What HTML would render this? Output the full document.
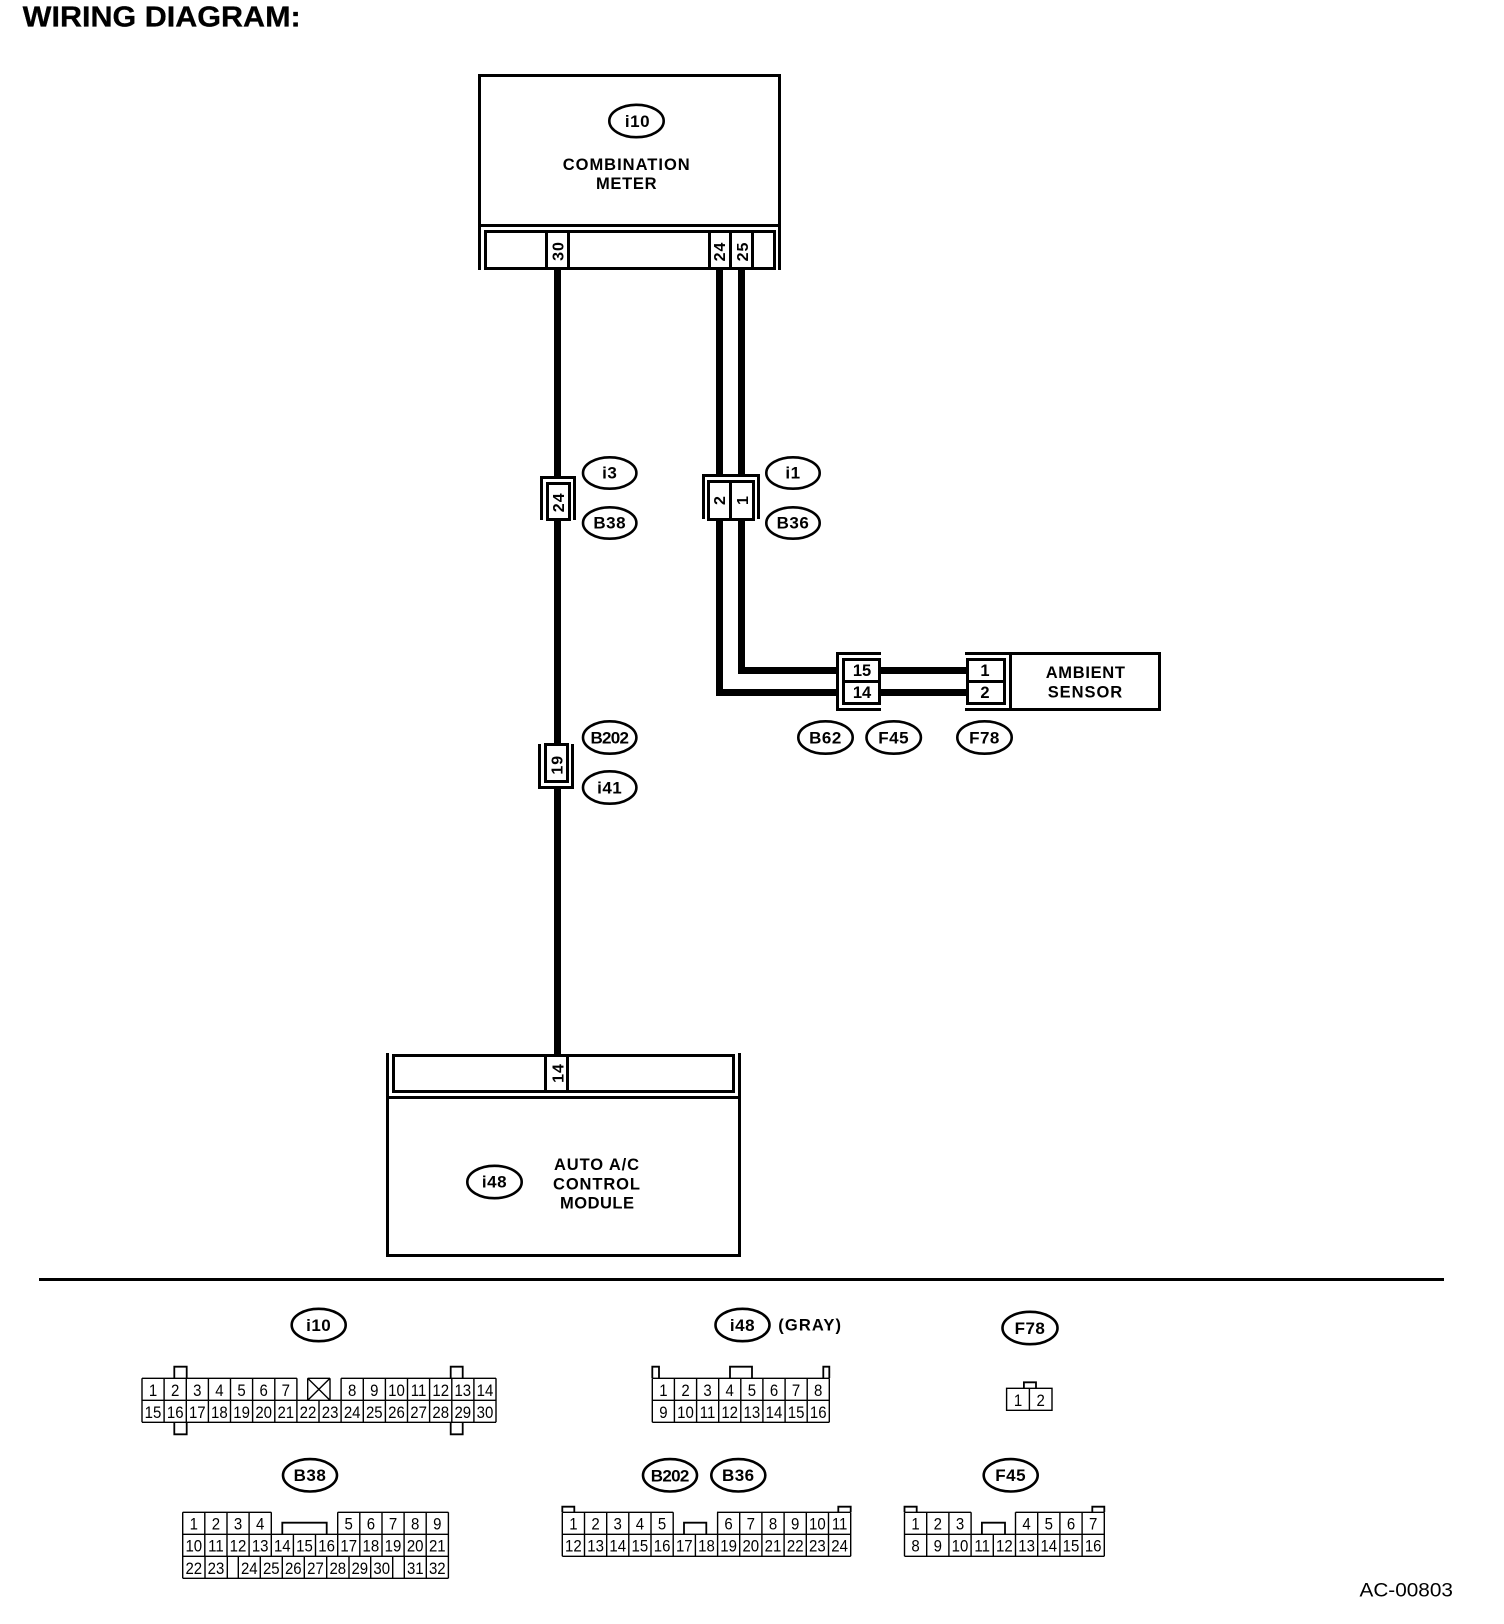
<!DOCTYPE html>
<html lang="en">
<head>
<meta charset="utf-8">
<title>Wiring Diagram</title>
<style>
html,body{margin:0;padding:0;background:#fff}
svg{display:block}
text{font-family:"Liberation Sans",Arial,sans-serif;fill:#000}
.b{font-weight:bold}
.e{font-weight:bold;font-size:17px;letter-spacing:.5px;text-anchor:middle}
.r{font-weight:bold;font-size:16px;text-anchor:middle;letter-spacing:1px}
.n{font-size:15px;text-anchor:middle}
.l{font-weight:bold;font-size:16.5px}
ellipse{fill:#fff;stroke:#000;stroke-width:2.6}
.t{fill:none;stroke:#000;stroke-width:3}
.f{fill:#fff;stroke:#000;stroke-width:3}
.g{fill:none;stroke:#000;stroke-width:1.4}
.k{fill:none;stroke:#000;stroke-width:1.8}
</style>
</head>
<body>
<svg width="1504" height="1624" viewBox="0 0 1504 1624" xmlns="http://www.w3.org/2000/svg">
<rect width="1504" height="1624" fill="#fff"/>

<text class="b" x="22.7" y="26.3" font-size="28.5" textLength="278" lengthAdjust="spacingAndGlyphs" stroke="#000" stroke-width=".3">WIRING DIAGRAM:</text>

<!-- wires -->
<g fill="#000">
<rect x="554" y="268" width="7" height="209"/>
<rect x="554" y="520" width="7" height="224"/>
<rect x="554" y="788" width="7" height="267"/>
<rect x="716" y="268" width="7" height="207"/>
<rect x="738" y="268" width="7" height="207"/>
<rect x="716" y="520" width="7" height="176"/>
<rect x="738" y="520" width="7" height="154"/>
<rect x="716" y="689" width="121" height="7"/>
<rect x="738" y="667" width="99" height="7"/>
<rect x="881" y="667" width="86" height="7"/>
<rect x="881" y="689" width="86" height="7"/>
</g>

<!-- combination meter -->
<path class="t" d="M479.5 270V75.5H779.5V270M478 225.5H781"/>
<rect class="t" x="485.5" y="231.5" width="289" height="37"/>
<path class="t" d="M546.5 231V268M568.5 231V268M709.5 231V268M730.5 231V268M752.5 231V268"/>
<ellipse cx="636.5" cy="121" rx="27.2" ry="16.2"/>
<text class="e" x="637.5" y="127">i10</text>
<text class="l" x="562.7" y="170" textLength="127">COMBINATION</text>
<text class="l" x="596" y="189" textLength="60.5">METER</text>
<text class="r" transform="translate(563.5,251) rotate(-90)">30</text>
<text class="r" transform="translate(725,251.5) rotate(-90)">24</text>
<text class="r" transform="translate(748,251.5) rotate(-90)">25</text>

<!-- i3 / B38 -->
<path class="t" d="M541.5 520V477.5H574.5V520"/>
<rect class="t" x="547.5" y="483.5" width="22" height="36"/>
<text class="r" transform="translate(564,502.3) rotate(-90)">24</text>
<ellipse cx="609.7" cy="473" rx="26.7" ry="15.7"/>
<text class="e" x="609.7" y="478.7">i3</text>
<ellipse cx="609.7" cy="523" rx="26.7" ry="15.7"/>
<text class="e" x="609.7" y="528.7">B38</text>

<!-- i1 / B36 -->
<path class="t" d="M703.5 519V475.5H758.5V519"/>
<rect class="t" x="708.5" y="481.5" width="45" height="38"/>
<path class="t" d="M730.5 481V519"/>
<text class="r" transform="translate(725,500) rotate(-90)">2</text>
<text class="r" transform="translate(748,500) rotate(-90)">1</text>
<ellipse cx="793" cy="473" rx="26.7" ry="15.7"/>
<text class="e" x="793" y="478.7">i1</text>
<ellipse cx="793" cy="523" rx="26.7" ry="15.7"/>
<text class="e" x="793" y="528.7">B36</text>

<!-- B202 / i41 -->
<path class="t" d="M539.5 744V787.5H572.5V744"/>
<rect class="t" x="545.5" y="744.5" width="22" height="37"/>
<text class="r" transform="translate(562.3,764.7) rotate(-90)">19</text>
<ellipse cx="609.7" cy="737.5" rx="26.7" ry="16.2"/>
<text class="b" x="590.5" y="743.5" font-size="17" textLength="38.5">B202</text>
<ellipse cx="609.7" cy="787.5" rx="26.7" ry="16.2"/>
<text class="e" x="609.7" y="793.3">i41</text>

<!-- B62 F45 connector -->
<path class="t" d="M881 653.5H837.5V709.5H881"/>
<rect class="t" x="843.5" y="659.5" width="36" height="44"/>
<path class="t" d="M843 681.5H880"/>
<text class="l" x="862" y="676" text-anchor="middle">15</text>
<text class="l" x="862" y="698" text-anchor="middle">14</text>

<!-- ambient sensor -->
<path class="t" d="M965 653.5H1159.5V709.5H965M1010.5 653V709"/>
<rect class="t" x="967.5" y="659.5" width="37" height="44"/>
<path class="t" d="M967 681.5H1004"/>
<text class="l" x="985" y="676" text-anchor="middle">1</text>
<text class="l" x="985" y="698" text-anchor="middle">2</text>
<text class="l" x="1045.7" y="678" textLength="79.3">AMBIENT</text>
<text class="l" x="1047.7" y="697.3" textLength="74.5">SENSOR</text>
<ellipse cx="825.5" cy="737.5" rx="27.2" ry="16.2"/>
<text class="e" x="825.5" y="743.3">B62</text>
<ellipse cx="893.7" cy="737.5" rx="27.2" ry="16.2"/>
<text class="e" x="893.7" y="743.3">F45</text>
<ellipse cx="984.5" cy="737.5" rx="27.2" ry="16.2"/>
<text class="e" x="984.5" y="743.3">F78</text>

<!-- auto a/c -->
<path class="t" d="M387.5 1053V1255.5H739.5V1053M386 1097.5H741"/>
<rect class="t" x="393.5" y="1055.5" width="340" height="36"/>
<path class="t" d="M545.5 1055V1091M567.5 1055V1091"/>
<text class="r" transform="translate(563.3,1073) rotate(-90)">14</text>
<ellipse cx="494.5" cy="1182" rx="27.2" ry="16.2"/>
<text class="e" x="494.5" y="1187.5">i48</text>
<text class="l" x="554" y="1170" textLength="85">AUTO A/C</text>
<text class="l" x="553" y="1189.3" textLength="87">CONTROL</text>
<text class="l" x="560" y="1208.5" textLength="74">MODULE</text>

<rect x="39" y="1278" width="1405" height="3" fill="#000"/>

<!-- i10 connector -->
<ellipse cx="318.7" cy="1325" rx="27" ry="16.2"/>
<text class="e" x="318.7" y="1330.8">i10</text>
<path class="g" d="M142 1378.3H296.9M341.1 1378.3H496M142 1400.3H496M142 1422.3H496M307.7 1378.3H330M307.7 1378.3V1400.3M330 1378.3V1400.3M307.7 1378.3L330 1400.3M330 1378.3L307.7 1400.3
M142 1378.3V1422.3M164.1 1378.3V1422.3M186.3 1378.3V1422.3M208.4 1378.3V1422.3M230.5 1378.3V1422.3M252.6 1378.3V1422.3M274.8 1378.3V1422.3M296.9 1378.3V1422.3M319 1400.3V1422.3M341.1 1378.3V1422.3M363.3 1378.3V1422.3M385.4 1378.3V1422.3M407.5 1378.3V1422.3M429.6 1378.3V1422.3M451.8 1378.3V1422.3M473.9 1378.3V1422.3M496 1378.3V1422.3"/>
<path class="k" d="M174.3 1378V1366.7H186.7V1378M174.3 1422.3V1434.3H186.7V1422.3M450.7 1378V1366.7H462.7V1378M450.7 1422.3V1434.3H462.7V1422.3"/>
<g transform="translate(0,1396) scale(1,1.12)">
<text class="n" x="153">1</text><text class="n" x="175.2">2</text><text class="n" x="197.3">3</text><text class="n" x="219.4">4</text><text class="n" x="241.6">5</text><text class="n" x="263.7">6</text><text class="n" x="285.8">7</text>
<text class="n" x="352.2">8</text><text class="n" x="374.3">9</text><text class="n" x="396.5">10</text><text class="n" x="418.6">11</text><text class="n" x="440.7">12</text><text class="n" x="462.8">13</text><text class="n" x="485">14</text>
</g>
<g transform="translate(0,1417.8) scale(1,1.12)">
<text class="n" x="153">15</text><text class="n" x="175.2">16</text><text class="n" x="197.3">17</text><text class="n" x="219.4">18</text><text class="n" x="241.6">19</text><text class="n" x="263.7">20</text><text class="n" x="285.8">21</text><text class="n" x="308">22</text><text class="n" x="330.1">23</text><text class="n" x="352.2">24</text><text class="n" x="374.3">25</text><text class="n" x="396.5">26</text><text class="n" x="418.6">27</text><text class="n" x="440.7">28</text><text class="n" x="462.8">29</text><text class="n" x="485">30</text>
</g>

<!-- i48 connector -->
<ellipse cx="742.5" cy="1325" rx="27" ry="16.2"/>
<text class="e" x="742.5" y="1330.8">i48</text>
<text class="b" x="778.3" y="1330.7" font-size="16.5" textLength="62.7">(GRAY)</text>
<path class="g" d="M652.3 1378.3H829.3M652.3 1400.3H829.3M652.3 1422.3H829.3M652.3 1378.3V1422.3M674.4 1378.3V1422.3M696.6 1378.3V1422.3M718.7 1378.3V1422.3M740.8 1378.3V1422.3M762.9 1378.3V1422.3M785.1 1378.3V1422.3M807.2 1378.3V1422.3M829.3 1378.3V1422.3"/>
<path class="k" d="M652.3 1378V1366.7H659V1378M823.3 1378V1366.7H829.3V1378M730 1378V1366.7H752V1378"/>
<g transform="translate(0,1396) scale(1,1.12)">
<text class="n" x="663.4">1</text><text class="n" x="685.5">2</text><text class="n" x="707.6">3</text><text class="n" x="729.7">4</text><text class="n" x="751.9">5</text><text class="n" x="774">6</text><text class="n" x="796.1">7</text><text class="n" x="818.2">8</text>
</g>
<g transform="translate(0,1417.8) scale(1,1.12)">
<text class="n" x="663.4">9</text><text class="n" x="685.5">10</text><text class="n" x="707.6">11</text><text class="n" x="729.7">12</text><text class="n" x="751.9">13</text><text class="n" x="774">14</text><text class="n" x="796.1">15</text><text class="n" x="818.2">16</text>
</g>

<!-- F78 connector -->
<ellipse cx="1030" cy="1328" rx="27.5" ry="16.2"/>
<text class="e" x="1030" y="1333.8">F78</text>
<path class="g" d="M1006.6 1388.3H1052V1410.3H1006.6ZM1029.4 1388.3V1410.3"/>
<path class="k" d="M1023.9 1388V1382.3H1036V1388"/>
<g transform="translate(0,1406) scale(1,1.12)">
<text class="n" x="1018">1</text><text class="n" x="1040.7">2</text>
</g>

<!-- B38 connector -->
<ellipse cx="310" cy="1475.3" rx="27" ry="16.2"/>
<text class="e" x="310" y="1481.1">B38</text>
<path class="g" d="M182.7 1512.3H271.3M337.7 1512.3H448.4M182.7 1534.3H448.4M182.7 1556.3H448.4M182.7 1578.3H448.4
M182.7 1512.3V1578.3M204.8 1512.3V1556.3M227 1512.3V1556.3M249.1 1512.3V1556.3M271.3 1512.3V1556.3M293.4 1534.3V1556.3M315.5 1534.3V1556.3M337.7 1512.3V1556.3M359.8 1512.3V1556.3M382 1512.3V1556.3M404.1 1512.3V1556.3M426.2 1512.3V1556.3M448.4 1512.3V1578.3
M205 1556.3V1578.3M227.3 1556.3V1578.3M238.3 1556.3V1578.3M260.3 1556.3V1578.3M282.3 1556.3V1578.3M304.3 1556.3V1578.3M326.7 1556.3V1578.3M349 1556.3V1578.3M370.7 1556.3V1578.3M392.7 1556.3V1578.3M404.3 1556.3V1578.3M426.3 1556.3V1578.3"/>
<path class="k" d="M282.3 1534V1522.7H326.7V1534"/>
<g transform="translate(0,1529.5) scale(1,1.12)">
<text class="n" x="193.8">1</text><text class="n" x="215.9">2</text><text class="n" x="238">3</text><text class="n" x="260.2">4</text><text class="n" x="348.7">5</text><text class="n" x="370.9">6</text><text class="n" x="393">7</text><text class="n" x="415.2">8</text><text class="n" x="437.3">9</text>
</g>
<g transform="translate(0,1551.7) scale(1,1.12)">
<text class="n" x="193.8">10</text><text class="n" x="215.9">11</text><text class="n" x="238">12</text><text class="n" x="260.2">13</text><text class="n" x="282.3">14</text><text class="n" x="304.5">15</text><text class="n" x="326.6">16</text><text class="n" x="348.7">17</text><text class="n" x="370.9">18</text><text class="n" x="393">19</text><text class="n" x="415.2">20</text><text class="n" x="437.3">21</text>
</g>
<g transform="translate(0,1574) scale(1,1.12)">
<text class="n" x="193.8">22</text><text class="n" x="216">23</text><text class="n" x="249.3">24</text><text class="n" x="271.3">25</text><text class="n" x="293.3">26</text><text class="n" x="315.5">27</text><text class="n" x="337.8">28</text><text class="n" x="359.8">29</text><text class="n" x="381.7">30</text><text class="n" x="415.3">31</text><text class="n" x="437.3">32</text>
</g>

<!-- B202 / B36 connector -->
<ellipse cx="670" cy="1475.3" rx="27" ry="16.2"/>
<text class="b" x="650.8" y="1481.3" font-size="17" textLength="38.5">B202</text>
<ellipse cx="738.3" cy="1475.3" rx="27" ry="16.2"/>
<text class="e" x="738.3" y="1481.1">B36</text>
<path class="g" d="M562.3 1512.3H673.2M717 1512.3H850.7M562.3 1534.3H850.7M562.3 1556.3H850.7
M562.3 1512.3V1556.3M584.5 1512.3V1556.3M606.7 1512.3V1556.3M628.8 1512.3V1556.3M651 1512.3V1556.3M673.2 1512.3V1556.3M695.4 1534.3V1556.3M717.6 1512.3V1556.3M739.7 1512.3V1556.3M761.9 1512.3V1556.3M784.1 1512.3V1556.3M806.3 1512.3V1556.3M828.5 1512.3V1556.3M850.7 1512.3V1556.3"/>
<path class="k" d="M684 1534V1522.7H706.3V1534M562.3 1512V1506.7H574.3V1512M838.3 1512V1506.7H850.7V1512"/>
<g transform="translate(0,1529.5) scale(1,1.12)">
<text class="n" x="573.4">1</text><text class="n" x="595.6">2</text><text class="n" x="617.7">3</text><text class="n" x="639.9">4</text><text class="n" x="662.1">5</text><text class="n" x="728.6">6</text><text class="n" x="750.8">7</text><text class="n" x="773">8</text><text class="n" x="795.2">9</text><text class="n" x="817.4">10</text><text class="n" x="839.6">11</text>
</g>
<g transform="translate(0,1551.7) scale(1,1.12)">
<text class="n" x="573.4">12</text><text class="n" x="595.6">13</text><text class="n" x="617.7">14</text><text class="n" x="639.9">15</text><text class="n" x="662.1">16</text><text class="n" x="684.3">17</text><text class="n" x="706.5">18</text><text class="n" x="728.6">19</text><text class="n" x="750.8">20</text><text class="n" x="773">21</text><text class="n" x="795.2">22</text><text class="n" x="817.4">23</text><text class="n" x="839.6">24</text>
</g>

<!-- F45 connector -->
<ellipse cx="1010.7" cy="1475.3" rx="27" ry="16.2"/>
<text class="e" x="1010.7" y="1481.1">F45</text>
<path class="g" d="M904.5 1512.3H971.1M1015.5 1512.3H1104.3M904.5 1534.3H1104.3M904.5 1556.3H1104.3
M904.5 1512.3V1556.3M926.7 1512.3V1556.3M948.9 1512.3V1556.3M971.1 1512.3V1556.3M993.3 1534.3V1556.3M1015.5 1512.3V1556.3M1037.7 1512.3V1556.3M1059.9 1512.3V1556.3M1082.1 1512.3V1556.3M1104.3 1512.3V1556.3"/>
<path class="k" d="M981.9 1534V1522.7H1005V1534M904.5 1512V1506.7H916.7V1512M1092.3 1512V1506.7H1104.3V1512"/>
<g transform="translate(0,1529.5) scale(1,1.12)">
<text class="n" x="915.6">1</text><text class="n" x="937.8">2</text><text class="n" x="960">3</text><text class="n" x="1026.6">4</text><text class="n" x="1048.8">5</text><text class="n" x="1071">6</text><text class="n" x="1093.2">7</text>
</g>
<g transform="translate(0,1551.7) scale(1,1.12)">
<text class="n" x="915.6">8</text><text class="n" x="937.8">9</text><text class="n" x="960">10</text><text class="n" x="982.2">11</text><text class="n" x="1004.4">12</text><text class="n" x="1026.6">13</text><text class="n" x="1048.8">14</text><text class="n" x="1071">15</text><text class="n" x="1093.2">16</text>
</g>

<text x="1359.5" y="1596.7" font-size="19" textLength="93.4" lengthAdjust="spacingAndGlyphs">AC-00803</text>
</svg>
</body>
</html>
